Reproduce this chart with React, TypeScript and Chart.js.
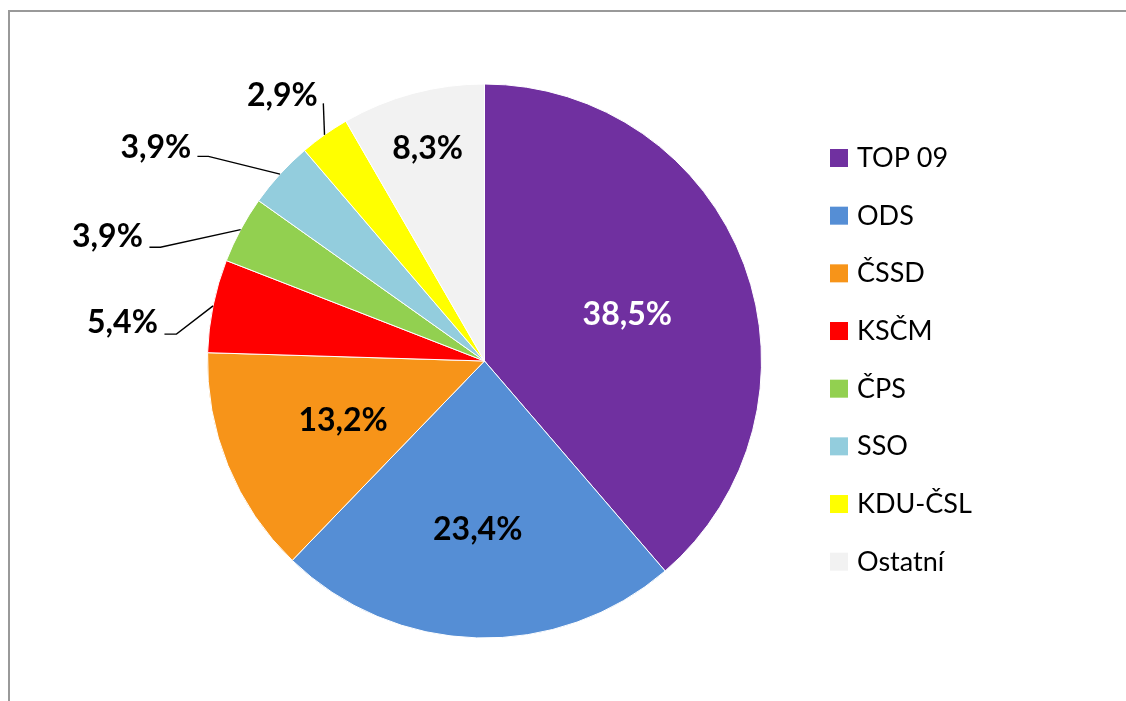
import React, { useEffect, useRef } from "react";
import { Chart, registerables } from "chart.js";

Chart.register(...registerables);

const categories = ["TOP 09", "ODS", "ČSSD", "KSČM", "ČPS", "SSO", "KDU-ČSL", "Ostatní"];
const shares = [38.5, 23.4, 13.2, 5.4, 3.9, 3.9, 2.9, 8.3];
const sliceColors = ["#7030A0", "#558ED5", "#F79419", "#FF0000", "#92D050", "#93CDDD", "#FFFF00", "#F2F2F2"];

const formatShare = (v: number) => v.toFixed(1).replace(".", ",") + "%";

// label placement (style / layout only)
type Placement =
  | { inside: true; r: number; dx: number; dy: number; color: string }
  | { inside: false; tx: number; ty: number; ex: number; ey: number; tail: number };

const labelPlacement: Placement[] = [
  { inside: true, r: 0.542, dx: 2, dy: 6, color: "#FFFFFF" },
  { inside: true, r: 0.609, dx: -2, dy: 0, color: "#000000" },
  { inside: true, r: 0.555, dx: 1, dy: 2, color: "#000000" },
  { inside: false, tx: -90.6, ty: 17.3, ex: -36.6, ey: 28.3, tail: 12 },
  { inside: false, tx: -133.2, ty: 6.6, ex: -80.2, ey: 17.6, tail: 11 },
  { inside: false, tx: -124.1, ty: -26.8, ex: -71.6, ey: -17.8, tail: 11 },
  { inside: false, tx: -42.2, ty: -39.5, ex: -1.2, ey: -31.5, tail: 0 },
  { inside: true, r: 0.793, dx: 0, dy: 0, color: "#000000" },
];

const LABEL_FONT = "bold 32px Lato, 'Open Sans', sans-serif";
const LEGEND_FONT = "27px Lato, 'Open Sans', sans-serif";

const pieLabelsPlugin = {
  id: "pieLabels",
  afterDatasetsDraw(chart: any) {
    const ctx = chart.ctx as CanvasRenderingContext2D;
    const meta = chart.getDatasetMeta(0);
    const data = chart.data.datasets[0].data as number[];
    ctx.save();
    ctx.font = LABEL_FONT;
    ctx.textAlign = "center";
    ctx.textBaseline = "middle";
    meta.data.forEach((arc: any, i: number) => {
      const p = arc.getProps(["x", "y", "startAngle", "endAngle", "outerRadius"], true);
      const mid = (p.startAngle + p.endAngle) / 2;
      const cos = Math.cos(mid);
      const sin = Math.sin(mid);
      const text = formatShare(data[i]);
      const pl = labelPlacement[i];
      if (pl.inside) {
        const lx = p.x + cos * p.outerRadius * pl.r + pl.dx;
        const ly = p.y + sin * p.outerRadius * pl.r + pl.dy;
        ctx.fillStyle = pl.color;
        ctx.fillText(text, lx, ly);
      } else {
        const ax = p.x + cos * p.outerRadius;
        const ay = p.y + sin * p.outerRadius;
        const ex = ax + pl.ex;
        const ey = ay + pl.ey;
        ctx.strokeStyle = "#000000";
        ctx.lineWidth = 1.4;
        ctx.beginPath();
        ctx.moveTo(ax, ay);
        ctx.lineTo(ex, ey);
        if (pl.tail > 0) ctx.lineTo(ex - pl.tail, ey);
        ctx.stroke();
        ctx.fillStyle = "#000000";
        ctx.fillText(text, ax + pl.tx, ay + pl.ty);
      }
    });
    ctx.restore();
  },
};

const legendPlugin = {
  id: "sideLegend",
  afterDraw(chart: any) {
    const ctx = chart.ctx as CanvasRenderingContext2D;
    const labels = chart.data.labels as string[];
    const colors = chart.data.datasets[0].backgroundColor as string[];
    const boxX = 830;
    const firstTop = 149;
    const step = 57.67;
    const box = 18;
    ctx.save();
    ctx.font = LEGEND_FONT;
    ctx.textAlign = "left";
    ctx.textBaseline = "alphabetic";
    labels.forEach((lab, i) => {
      const top = firstTop + i * step;
      ctx.fillStyle = colors[i];
      ctx.fillRect(boxX, top, box, box);
      ctx.fillStyle = "#000000";
      ctx.fillText(lab, boxX + 27, top + box);
    });
    ctx.restore();
  },
};

export default function App() {
  const canvasRef = useRef<HTMLCanvasElement | null>(null);

  useEffect(() => {
    document.body.style.margin = "0";
    const canvas = canvasRef.current;
    if (!canvas) return;
    const chart = new Chart(canvas, {
      type: "pie",
      data: {
        labels: categories,
        datasets: [
          {
            data: shares,
            backgroundColor: sliceColors,
            borderColor: "#FFFFFF",
            borderWidth: 1,
            hoverOffset: 0,
            offset: 0,
          },
        ],
      },
      options: {
        responsive: false,
        animation: false,
        devicePixelRatio: 1,
        layout: { padding: { left: 207, right: 364, top: 83, bottom: 62 } },
        plugins: {
          legend: { display: false },
          tooltip: { enabled: false },
        },
      },
      plugins: [pieLabelsPlugin, legendPlugin],
    });
    return () => chart.destroy();
  }, []);

  return (
    <div style={{ position: "fixed", left: 0, top: 0, width: 1126, height: 701, overflow: "hidden", background: "#FFFFFF" }}>
      <div
        style={{
          position: "absolute",
          left: 8,
          top: 10,
          width: 1300,
          height: 900,
          borderTop: "2px solid #999999",
          borderLeft: "2px solid #999999",
        }}
      />
      <canvas ref={canvasRef} width={1126} height={701} style={{ position: "absolute", left: 0, top: 0, width: 1126, height: 701 }} />
    </div>
  );
}
